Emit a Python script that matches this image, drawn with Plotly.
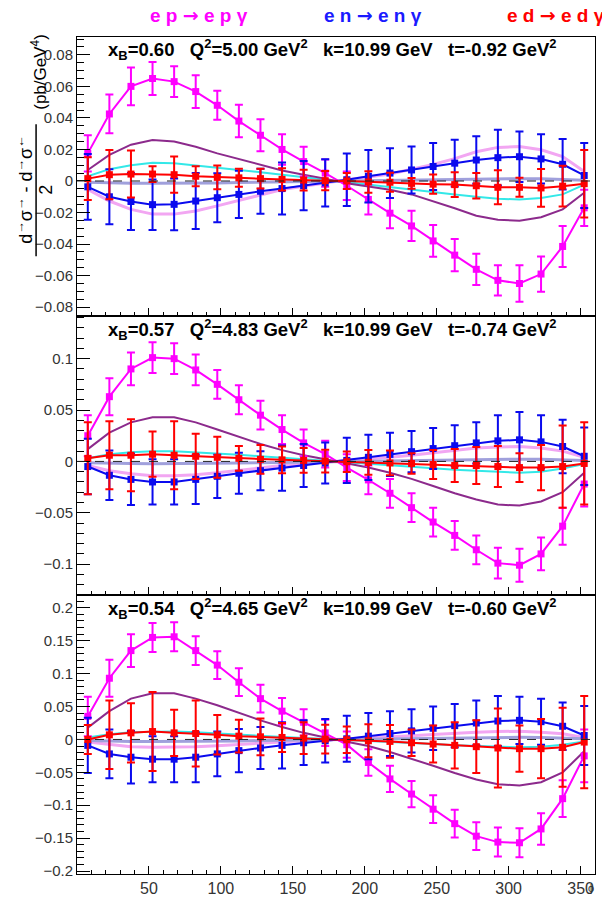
import plotly.graph_objects as go
from plotly.subplots import make_subplots

phi = [7.5, 22.5, 37.5, 52.5, 67.5, 82.5, 97.5, 112.5, 127.5, 142.5, 157.5, 172.5,
       187.5, 202.5, 217.5, 232.5, 247.5, 262.5, 277.5, 292.5, 307.5, 322.5, 337.5, 352.5]
x_ticks = [50, 100, 150, 200, 250, 300, 350]

# ---------------- panel 1 ----------------
mag1 = [0.0175, 0.0425, 0.060, 0.065, 0.063, 0.0567, 0.048, 0.038, 0.029, 0.020, 0.0123, 0.005,
        -0.003, -0.0117, -0.0204, -0.0285, -0.038, -0.047, -0.056, -0.063, -0.065, -0.059, -0.0415, -0.017]
mag1_err = [0.0115, 0.0123, 0.012, 0.0105, 0.0098, 0.0104, 0.0092, 0.0103, 0.0101, 0.0097, 0.0094, 0.0087,
            0.009, 0.0096, 0.0096, 0.0096, 0.0101, 0.0102, 0.0099, 0.0096, 0.0115, 0.0112, 0.013, 0.0115]
blue1 = [-0.0037, -0.010, -0.013, -0.015, -0.0148, -0.0127, -0.0106, -0.0085, -0.0065, -0.0048, -0.003, -0.0012,
         0.0008, 0.003, 0.005, 0.007, 0.0092, 0.0113, 0.0133, 0.0148, 0.0154, 0.014, 0.0106, 0.0035]
blue1_err = [0.0208, 0.0175, 0.018, 0.016, 0.0164, 0.0177, 0.0155, 0.015, 0.0143, 0.0165, 0.0156, 0.015,
             0.0167, 0.0167, 0.0158, 0.0149, 0.0149, 0.0148, 0.015, 0.0177, 0.016, 0.0156, 0.016, 0.0206]
red1 = [0.0015, 0.004, 0.0044, 0.0044, 0.004, 0.003, 0.0023, 0.002, 0.0015, 0.001, 0.0006, 0.0002,
        0.0, -0.0006, -0.0008, -0.0015, -0.002, -0.0023, -0.003, -0.004, -0.004, -0.0044, -0.0033, -0.0017]
red1_err = [0.0135, 0.0156, 0.0149, 0.005, 0.0115, 0.0063, 0.0076, 0.0057, 0.0063, 0.0071, 0.0066, 0.0061,
            0.005, 0.0068, 0.006, 0.0034, 0.0061, 0.0078, 0.0081, 0.0108, 0.006, 0.012, 0.0129, 0.0214]
purple1 = [0.007, 0.0165, 0.023, 0.026, 0.025, 0.0217, 0.0175, 0.0138, 0.0102, 0.0067, 0.004, 0.0015,
           -0.0015, -0.0035, -0.0055, -0.0085, -0.0127, -0.0173, -0.022, -0.0246, -0.0252, -0.023, -0.018, -0.0075]
cyan1 = [0.003, 0.0075, 0.010, 0.0115, 0.0113, 0.010, 0.0085, 0.007, 0.0056, 0.004, 0.0023, 0.0008,
         -0.0008, -0.0023, -0.004, -0.0056, -0.007, -0.0085, -0.010, -0.0113, -0.0117, -0.0108, -0.0085, -0.0023]
pink1 = [-0.0054, -0.0127, -0.018, -0.021, -0.021, -0.019, -0.0158, -0.0123, -0.0085, -0.0054, -0.0033, -0.0012,
         0.0008, 0.0025, 0.0045, 0.0075, 0.0105, 0.0142, 0.0185, 0.0213, 0.0218, 0.0198, 0.0155, 0.006]
lav1 = [-0.0008, -0.0012, -0.0014, -0.0015, -0.0015, -0.0014, -0.0012, -0.001, -0.0008, -0.0006, -0.0004, -0.0001,
        0.0001, 0.0003, 0.0005, 0.0007, 0.0009, 0.0011, 0.0013, 0.0015, 0.0015, 0.0014, 0.0011, 0.0005]

# ---------------- panel 2 ----------------
mag2 = [0.025, 0.063, 0.090, 0.101, 0.100, 0.089, 0.075, 0.060, 0.045, 0.031, 0.018, 0.007,
        -0.006, -0.018, -0.031, -0.045, -0.059, -0.072, -0.086, -0.099, -0.101, -0.090, -0.063, -0.022]
mag2_err = [0.020, 0.018, 0.016, 0.015, 0.015, 0.015, 0.014, 0.014, 0.014, 0.014, 0.013, 0.013,
            0.013, 0.014, 0.014, 0.014, 0.014, 0.014, 0.014, 0.015, 0.016, 0.016, 0.018, 0.022]
blue2 = [-0.005, -0.0135, -0.0175, -0.020, -0.020, -0.0175, -0.0145, -0.0115, -0.009, -0.0065, -0.004, -0.0016,
         0.001, 0.004, 0.0068, 0.0095, 0.0125, 0.0153, 0.018, 0.020, 0.021, 0.019, 0.0145, 0.005]
blue2_err = [0.027, 0.024, 0.025, 0.022, 0.022, 0.024, 0.021, 0.020, 0.019, 0.022, 0.021, 0.020,
             0.022, 0.022, 0.021, 0.020, 0.020, 0.020, 0.020, 0.025, 0.027, 0.026, 0.026, 0.028]
red2 = [0.003, 0.006, 0.006, 0.007, 0.006, 0.005, 0.004, 0.003, 0.002, 0.0015, 0.001, 0.0003,
        -0.0003, -0.001, -0.0015, -0.002, -0.003, -0.004, -0.004, -0.005, -0.006, -0.006, -0.005, -0.002]
red2_err = [0.035, 0.033, 0.035, 0.022, 0.033, 0.022, 0.020, 0.012, 0.014, 0.013, 0.012, 0.011,
            0.010, 0.012, 0.012, 0.010, 0.014, 0.016, 0.018, 0.020, 0.014, 0.022, 0.040, 0.040]
purple2 = [0.012, 0.028, 0.038, 0.043, 0.043, 0.038, 0.031, 0.024, 0.017, 0.011, 0.006, 0.002,
           -0.002, -0.006, -0.011, -0.017, -0.024, -0.031, -0.037, -0.042, -0.043, -0.039, -0.030, -0.011]
cyan2 = [0.003, 0.007, 0.009, 0.010, 0.010, 0.009, 0.008, 0.0065, 0.005, 0.0035, 0.002, 0.0007,
         -0.0007, -0.002, -0.0035, -0.005, -0.0065, -0.008, -0.009, -0.010, -0.011, -0.010, -0.007, -0.0025]
pink2 = [-0.004, -0.009, -0.012, -0.014, -0.014, -0.013, -0.011, -0.0085, -0.006, -0.004, -0.0022, -0.0008,
         0.0008, 0.0022, 0.004, 0.006, 0.0085, 0.011, 0.013, 0.014, 0.0145, 0.013, 0.010, 0.004]
lav2 = [-0.0012, -0.0018, -0.002, -0.0022, -0.0022, -0.002, -0.0018, -0.0015, -0.0012, -0.0009, -0.0006, -0.0002,
        0.0002, 0.0005, 0.0008, 0.0011, 0.0014, 0.0017, 0.002, 0.0022, 0.0022, 0.002, 0.0016, 0.0008]

# ---------------- panel 3 ----------------
mag3 = [0.035, 0.093, 0.135, 0.155, 0.156, 0.135, 0.113, 0.087, 0.062, 0.043, 0.026, 0.010,
        -0.008, -0.035, -0.060, -0.083, -0.106, -0.128, -0.147, -0.156, -0.157, -0.136, -0.090, -0.025]
mag3_err = [0.030, 0.028, 0.025, 0.022, 0.022, 0.022, 0.021, 0.021, 0.021, 0.020, 0.020, 0.020,
            0.020, 0.020, 0.020, 0.020, 0.021, 0.021, 0.021, 0.022, 0.022, 0.024, 0.028, 0.040]
blue3 = [-0.009, -0.022, -0.027, -0.030, -0.030, -0.027, -0.022, -0.017, -0.013, -0.009, -0.005, -0.002,
         0.001, 0.005, 0.009, 0.013, 0.017, 0.021, 0.025, 0.028, 0.029, 0.027, 0.020, 0.006]
blue3_err = [0.042, 0.037, 0.040, 0.035, 0.035, 0.038, 0.034, 0.033, 0.032, 0.035, 0.034, 0.033,
             0.035, 0.035, 0.034, 0.033, 0.033, 0.033, 0.034, 0.038, 0.036, 0.035, 0.036, 0.045]
red3 = [0.0, 0.007, 0.010, 0.012, 0.010, 0.009, 0.007, 0.005, 0.004, 0.003, 0.002, 0.0005,
        -0.0005, -0.002, -0.003, -0.005, -0.007, -0.009, -0.011, -0.013, -0.014, -0.014, -0.012, -0.004]
red3_err = [0.022, 0.052, 0.045, 0.060, 0.035, 0.050, 0.030, 0.025, 0.028, 0.022, 0.024, 0.022,
            0.020, 0.025, 0.025, 0.020, 0.028, 0.035, 0.040, 0.060, 0.035, 0.045, 0.060, 0.070]
purple3 = [0.018, 0.043, 0.062, 0.070, 0.070, 0.062, 0.052, 0.040, 0.029, 0.019, 0.010, 0.003,
           -0.003, -0.010, -0.019, -0.029, -0.040, -0.051, -0.061, -0.068, -0.070, -0.065, -0.050, -0.018]
cyan3 = [0.003, 0.008, 0.011, 0.012, 0.012, 0.011, 0.009, 0.007, 0.005, 0.0035, 0.002, 0.0007,
         -0.0007, -0.002, -0.0035, -0.005, -0.007, -0.009, -0.010, -0.011, -0.012, -0.011, -0.008, -0.003]
pink3 = [-0.004, -0.008, -0.011, -0.012, -0.012, -0.011, -0.0095, -0.0075, -0.0055, -0.0035, -0.002, -0.0007,
         0.0007, 0.002, 0.0035, 0.0055, 0.0075, 0.0095, 0.011, 0.012, 0.0125, 0.011, 0.0085, 0.003]
lav3 = [-0.0015, -0.0025, -0.003, -0.0032, -0.0032, -0.003, -0.0026, -0.0022, -0.0017, -0.0012, -0.0008, -0.0003,
        0.0003, 0.0008, 0.0012, 0.0017, 0.0022, 0.0026, 0.003, 0.0032, 0.0032, 0.003, 0.0024, 0.001]

panel_text = [
    "x<sub>B</sub>=0.60   Q<sup>2</sup>=5.00 GeV<sup>2</sup>   k=10.99 GeV   t=-0.92 GeV<sup>2</sup>",
    "x<sub>B</sub>=0.57   Q<sup>2</sup>=4.83 GeV<sup>2</sup>   k=10.99 GeV   t=-0.74 GeV<sup>2</sup>",
    "x<sub>B</sub>=0.54   Q<sup>2</sup>=4.65 GeV<sup>2</sup>   k=10.99 GeV   t=-0.60 GeV<sup>2</sup>",
]
y_ranges = [[-0.0856, 0.0913], [-0.130, 0.1415], [-0.2045, 0.2195]]
y_dticks = [0.02, 0.05, 0.05]
y_minor = [0.005, 0.01, 0.01]

panels = [
    dict(mag=mag1, mag_e=mag1_err, blue=blue1, blue_e=blue1_err, red=red1, red_e=red1_err,
         purple=purple1, cyan=cyan1, pink=pink1, lav=lav1),
    dict(mag=mag2, mag_e=mag2_err, blue=blue2, blue_e=blue2_err, red=red2, red_e=red2_err,
         purple=purple2, cyan=cyan2, pink=pink2, lav=lav2),
    dict(mag=mag3, mag_e=mag3_err, blue=blue3, blue_e=blue3_err, red=red3, red_e=red3_err,
         purple=purple3, cyan=cyan3, pink=pink3, lav=lav3),
]

C_MAG = "#ff00ff"
C_BLUE = "#0a0aee"
C_RED = "#ff0000"
C_PURPLE = "#8c2a8c"
C_CYAN = "#33e8e8"
C_PINK = "#f2a6f2"
C_LAV = "#a0a0dc"
FONT = "Liberation Sans, Arial, sans-serif"

fig = make_subplots(rows=3, cols=1, vertical_spacing=0)

for i, p in enumerate(panels):
    r = i + 1
    fig.add_trace(go.Scatter(x=phi, y=p["pink"], mode="lines", line=dict(color=C_PINK, width=3),
                             showlegend=False), row=r, col=1)
    fig.add_trace(go.Scatter(x=phi, y=p["lav"], mode="lines", line=dict(color=C_LAV, width=3),
                             showlegend=False), row=r, col=1)
    fig.add_trace(go.Scatter(x=phi, y=p["cyan"], mode="lines", line=dict(color=C_CYAN, width=2),
                             showlegend=False), row=r, col=1)
    fig.add_trace(go.Scatter(x=phi, y=p["purple"], mode="lines", line=dict(color=C_PURPLE, width=2),
                             showlegend=False), row=r, col=1)
    for key, col in (("mag", C_MAG), ("blue", C_BLUE), ("red", C_RED)):
        fig.add_trace(go.Scatter(
            x=phi, y=p[key], mode="lines+markers",
            line=dict(color=col, width=2),
            marker=dict(symbol="square", size=7, color=col),
            error_y=dict(type="data", array=p[key + "_e"], visible=True,
                         color=col, thickness=2, width=4),
            showlegend=False), row=r, col=1)
    fig.add_shape(type="line", xref="x%s domain" % ("" if r == 1 else r), x0=0, x1=1,
                  yref="y%s" % ("" if r == 1 else r), y0=0, y1=0,
                  line=dict(color="#222222", width=1, dash="dash"))

    fig.update_xaxes(range=[0, 360], tickmode="array", tickvals=x_ticks,
                     ticks="inside", ticklen=8, tickwidth=1,
                     tickcolor="black", showline=True, linecolor="black", linewidth=1, mirror=True,
                     showgrid=False, zeroline=False, showticklabels=(r == 3),
                     minor=dict(tick0=0, dtick=10, ticks="inside", ticklen=4, tickcolor="black",
                                showgrid=False),
                     tickfont=dict(family=FONT, size=16, color="#333333"),
                     row=r, col=1)
    fig.update_yaxes(range=y_ranges[i], dtick=y_dticks[i], tick0=0, ticks="inside", ticklen=13,
                     tickwidth=1, tickcolor="black", showline=True, linecolor="black", linewidth=1,
                     mirror=True, showgrid=False, zeroline=False,
                     minor=dict(dtick=y_minor[i], ticks="inside", ticklen=7, tickcolor="black",
                                showgrid=False),
                     tickfont=dict(family=FONT, size=15, color="#333333"),
                     row=r, col=1)

L, R, T, B = 77, 6, 37, 22
W, H = 602, 903
PW, PH = W - L - R, H - T - B


def px(x):
    return (x - L) / PW


def py(y):
    return (H - B - y) / PH


annotations = []
for i, txt in enumerate(panel_text):
    ycen = [50, 332, 613][i]
    annotations.append(dict(text=txt, x=px(106), y=py(ycen), xref="paper", yref="paper",
                            xanchor="left", yanchor="middle", showarrow=False,
                            font=dict(family=FONT, size=18.5, color="black", weight="bold")))

NB = "\u00a0"
ARW = "<span style=\"font-family:'DejaVu Sans'\">\u2192</span>"
headers = [("e" + NB + "p" + NB + ARW + NB + "e" + NB + "p" + NB + "\u03b3", C_MAG, 148),
           ("e" + NB + "n" + NB + ARW + NB + "e" + NB + "n" + NB + "\u03b3", "#1a1aff", 322),
           ("e" + NB + "d" + NB + ARW + NB + "e" + NB + "d" + NB + "\u03b3", C_RED, 506)]
for txt, col, x0 in headers:
    annotations.append(dict(text=txt, x=px(x0), y=py(15), xref="paper", yref="paper",
                            xanchor="left", yanchor="middle", showarrow=False,
                            font=dict(family=FONT, size=19, color=col, weight="bold")))

annotations.append(dict(text="d<sup>\u2192</sup>\u03c3<sup>\u2192</sup> - d<sup>\u2192</sup>\u03c3<sup>\u2190</sup>",
                        x=px(25), y=py(191), xref="paper", yref="paper", textangle=-90,
                        xanchor="center", yanchor="middle", showarrow=False,
                        font=dict(family=FONT, size=18, color="black")))
annotations.append(dict(text="2", x=px(46), y=py(191), xref="paper", yref="paper", textangle=-90,
                        xanchor="center", yanchor="middle", showarrow=False,
                        font=dict(family=FONT, size=18, color="black")))
annotations.append(dict(text="(pb/GeV<sup>4</sup>)", x=px(39), y=py(72), xref="paper", yref="paper",
                        textangle=-90, xanchor="center", yanchor="middle", showarrow=False,
                        font=dict(family=FONT, size=17, color="black")))
annotations.append(dict(text="\u03d5", x=px(592), y=py(895), xref="paper", yref="paper",
                        xanchor="center", yanchor="middle", showarrow=False,
                        font=dict(family=FONT, size=11, color="#333333")))

fig.add_shape(type="line", xref="paper", yref="paper", x0=px(36), x1=px(36), y0=py(258), y1=py(125),
              line=dict(color="black", width=1.5))

fig.update_layout(width=W, height=H, margin=dict(l=L, r=R, t=T, b=B),
                  plot_bgcolor="white", paper_bgcolor="white", annotations=annotations,
                  showlegend=False)

fig.write_html("out.html")
